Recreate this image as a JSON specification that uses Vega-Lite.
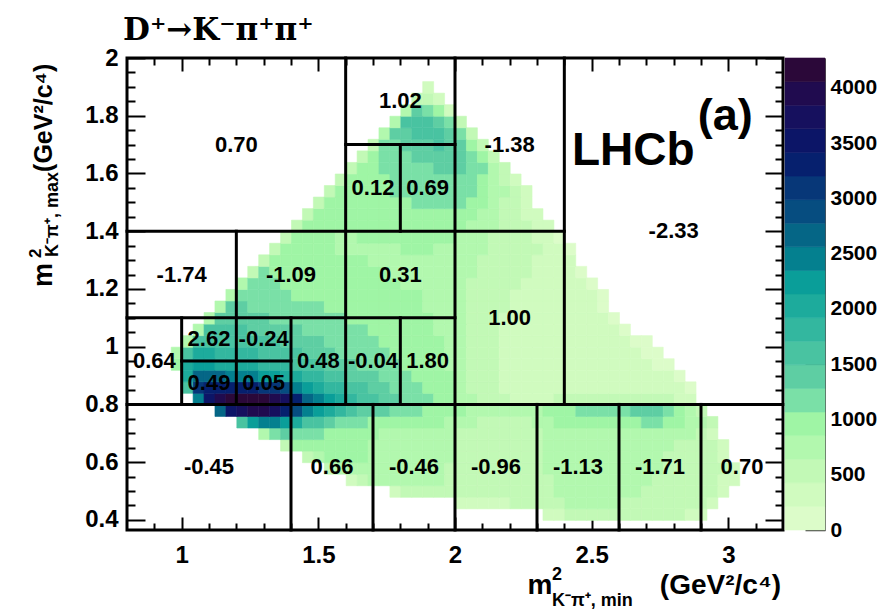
{
"$schema": "https://vega.github.io/schema/vega-lite/v6.json",
"width": 698,
"height": 472,
"autosize": {"type": "none"},
"padding": {"left": 127, "top": 58, "right": 69, "bottom": 83},
"background": "white",
"config": {
  "view": {"stroke": null},
  "axis": {"grid": false, "domain": false, "tickColor": "black", "tickWidth": 2, "labelFont": "Liberation Sans", "labelFontWeight": "bold", "labelColor": "black", "zindex": 1, "labelFlush": false, "labelOverlap": false}
},
"title": {"text": "D⁺→K⁻π⁺π⁺", "anchor": "start", "frame": "group", "font": "DejaVu Serif", "fontSize": 31, "fontWeight": "bold", "color": "black", "offset": -25, "baseline": "alphabetic", "dx": -4},
"datasets": {
  "cells": [
    {"y":0.4,"x":[2.32,2.36,2.4,2.44,2.48,2.52,2.56,2.6,2.64,2.68,2.72,2.76,2.8,2.84,2.88],"c":[300,420,480,520,560,580,600,580,560,560,540,520,480,420,300]},
    {"y":0.44,"x":[2,2.04,2.08,2.12,2.16,2.2,2.24,2.28,2.32,2.36,2.4,2.44,2.48,2.52,2.56,2.6,2.64,2.68,2.72,2.76,2.8,2.84,2.88,2.92],"c":[250,330,380,400,420,440,470,520,600,640,660,660,680,670,650,640,620,600,590,580,560,520,460,300]},
    {"y":0.48,"x":[1.76,1.8,1.84,1.88,1.92,1.96,2,2.04,2.08,2.12,2.16,2.2,2.24,2.28,2.32,2.36,2.4,2.44,2.48,2.52,2.56,2.6,2.64,2.68,2.72,2.76,2.8,2.84,2.88,2.92,2.96],"c":[350,520,600,620,600,560,500,450,440,450,460,470,490,540,620,660,680,690,700,690,680,660,650,630,620,600,580,550,500,440,280]},
    {"y":0.52,"x":[1.6,1.64,1.68,1.72,1.76,1.8,1.84,1.88,1.92,1.96,2,2.04,2.08,2.12,2.16,2.2,2.24,2.28,2.32,2.36,2.4,2.44,2.48,2.52,2.56,2.6,2.64,2.68,2.72,2.76,2.8,2.84,2.88,2.92,2.96,3],"c":[400,620,700,720,720,700,690,680,650,600,520,480,460,460,470,480,500,560,640,680,700,700,710,700,690,670,660,650,640,620,600,560,520,470,400,250]},
    {"y":0.56,"x":[1.52,1.56,1.6,1.64,1.68,1.72,1.76,1.8,1.84,1.88,1.92,1.96,2,2.04,2.08,2.12,2.16,2.2,2.24,2.28,2.32,2.36,2.4,2.44,2.48,2.52,2.56,2.6,2.64,2.68,2.72,2.76,2.8,2.84,2.88,2.92,2.96,3],"c":[450,750,820,830,800,760,740,720,710,700,680,640,560,500,480,470,480,490,520,580,650,690,710,720,720,710,700,680,670,660,650,630,610,580,540,490,430,280]},
    {"y":0.6,"x":[1.44,1.48,1.52,1.56,1.6,1.64,1.68,1.72,1.76,1.8,1.84,1.88,1.92,1.96,2,2.04,2.08,2.12,2.16,2.2,2.24,2.28,2.32,2.36,2.4,2.44,2.48,2.52,2.56,2.6,2.64,2.68,2.72,2.76,2.8,2.84,2.88,2.92,2.96],"c":[500,820,880,900,880,860,820,780,760,740,730,720,700,660,580,520,490,480,490,500,530,590,660,700,720,730,730,720,710,690,680,670,660,640,620,590,550,480,380]},
    {"y":0.64,"x":[1.36,1.4,1.44,1.48,1.52,1.56,1.6,1.64,1.68,1.72,1.76,1.8,1.84,1.88,1.92,1.96,2,2.04,2.08,2.12,2.16,2.2,2.24,2.28,2.32,2.36,2.4,2.44,2.48,2.52,2.56,2.6,2.64,2.68,2.72,2.76,2.8,2.84,2.88,2.92,2.96],"c":[600,950,980,960,940,920,900,880,840,800,780,760,750,740,720,680,600,540,510,500,500,510,540,600,670,710,730,740,750,740,730,710,700,690,680,660,640,610,570,500,330]},
    {"y":0.68,"x":[1.28,1.32,1.36,1.4,1.44,1.48,1.52,1.56,1.6,1.64,1.68,1.72,1.76,1.8,1.84,1.88,1.92,1.96,2,2.04,2.08,2.12,2.16,2.2,2.24,2.28,2.32,2.36,2.4,2.44,2.48,2.52,2.56,2.6,2.64,2.68,2.72,2.76,2.8,2.84,2.88,2.92],"c":[800,1250,1350,1250,1150,1080,1020,980,950,920,880,840,820,800,790,780,760,720,640,570,540,530,530,540,570,630,700,740,770,790,800,800,790,780,780,770,760,740,710,670,600,420]},
    {"y":0.72,"x":[1.2,1.24,1.28,1.32,1.36,1.4,1.44,1.48,1.52,1.56,1.6,1.64,1.68,1.72,1.76,1.8,1.84,1.88,1.92,1.96,2,2.04,2.08,2.12,2.16,2.2,2.24,2.28,2.32,2.36,2.4,2.44,2.48,2.52,2.56,2.6,2.64,2.68,2.72,2.76,2.8,2.84,2.88,2.92],"c":[1500,2200,2500,2500,2300,2000,1700,1500,1380,1280,1200,1120,1050,1000,960,930,900,880,860,820,740,660,620,600,600,610,640,720,820,880,920,960,1000,1000,980,980,1050,1100,1080,1000,900,800,700,450]},
    {"y":0.76,"x":[1.12,1.16,1.2,1.24,1.28,1.32,1.36,1.4,1.44,1.48,1.52,1.56,1.6,1.64,1.68,1.72,1.76,1.8,1.84,1.88,1.92,1.96,2,2.04,2.08,2.12,2.16,2.2,2.24,2.28,2.32,2.36,2.4,2.44,2.48,2.52,2.56,2.6,2.64,2.68,2.72,2.76,2.8,2.84,2.88],"c":[2600,3500,3800,3900,3850,3700,3400,2900,2450,2150,1950,1750,1600,1480,1380,1300,1240,1180,1120,1060,1010,950,880,800,740,700,680,690,720,800,920,1000,1050,1100,1150,1120,1080,1150,1300,1380,1350,1250,1050,850,520]},
    {"y":0.8,"x":[1.04,1.08,1.12,1.16,1.2,1.24,1.28,1.32,1.36,1.4,1.44,1.48,1.52,1.56,1.6,1.64,1.68,1.72,1.76,1.8,1.84,1.88,1.92,1.96,2,2.04,2.08,2.12,2.16,2.2,2.24,2.28,2.32,2.36,2.4,2.44,2.48,2.52,2.56,2.6,2.64,2.68,2.72,2.76,2.8,2.84],"c":[2400,3500,3950,4150,4200,4200,4150,4000,3700,3300,2750,2450,2200,2000,1850,1700,1550,1450,1350,1280,1200,1100,1000,900,780,660,560,480,440,420,410,410,420,430,450,470,490,500,500,510,520,510,480,440,380,250]},
    {"y":0.84,"x":[1,1.04,1.08,1.12,1.16,1.2,1.24,1.28,1.32,1.36,1.4,1.44,1.48,1.52,1.56,1.6,1.64,1.68,1.72,1.76,1.8,1.84,1.88,1.92,1.96,2,2.04,2.08,2.12,2.16,2.2,2.24,2.28,2.32,2.36,2.4,2.44,2.48,2.52,2.56,2.6,2.64,2.68,2.72,2.76,2.8,2.84],"c":[1500,3000,3350,3400,3350,3300,3250,3200,3050,2850,2450,2250,2050,1900,1750,1620,1520,1420,1330,1250,1180,1120,1060,980,880,740,620,520,460,420,400,390,380,380,380,390,400,410,420,420,420,410,400,380,340,300,200]},
    {"y":0.88,"x":[1,1.04,1.08,1.12,1.16,1.2,1.24,1.28,1.32,1.36,1.4,1.44,1.48,1.52,1.56,1.6,1.64,1.68,1.72,1.76,1.8,1.84,1.88,1.92,1.96,2,2.04,2.08,2.12,2.16,2.2,2.24,2.28,2.32,2.36,2.4,2.44,2.48,2.52,2.56,2.6,2.64,2.68,2.72,2.76,2.8],"c":[2000,2700,2750,2650,2550,2450,2400,2300,2200,2100,1950,1850,1750,1650,1550,1450,1380,1300,1230,1170,1110,1060,1010,950,860,720,600,500,440,400,380,370,360,350,350,340,330,320,320,310,300,290,280,260,230,150]},
    {"y":0.92,"x":[0.96,1,1.04,1.08,1.12,1.16,1.2,1.24,1.28,1.32,1.36,1.4,1.44,1.48,1.52,1.56,1.6,1.64,1.68,1.72,1.76,1.8,1.84,1.88,1.92,1.96,2,2.04,2.08,2.12,2.16,2.2,2.24,2.28,2.32,2.36,2.4,2.44,2.48,2.52,2.56,2.6,2.64,2.68,2.72,2.76],"c":[900,2100,2250,2200,2100,2050,2000,1950,1900,1850,1780,1700,1620,1550,1480,1400,1330,1270,1210,1150,1100,1050,1010,970,910,830,700,590,500,440,400,380,360,350,340,330,320,300,290,280,270,260,250,240,210,140]},
    {"y":0.96,"x":[0.96,1,1.04,1.08,1.12,1.16,1.2,1.24,1.28,1.32,1.36,1.4,1.44,1.48,1.52,1.56,1.6,1.64,1.68,1.72,1.76,1.8,1.84,1.88,1.92,1.96,2,2.04,2.08,2.12,2.16,2.2,2.24,2.28,2.32,2.36,2.4,2.44,2.48,2.52,2.56,2.6,2.64,2.68,2.72],"c":[700,1700,2000,1950,1900,1850,1800,1750,1700,1650,1580,1500,1440,1380,1330,1280,1230,1180,1130,1090,1050,1010,980,950,890,800,680,570,490,430,390,370,350,340,330,320,300,280,270,260,250,240,230,200,130]},
    {"y":1,"x":[1,1.04,1.08,1.12,1.16,1.2,1.24,1.28,1.32,1.36,1.4,1.44,1.48,1.52,1.56,1.6,1.64,1.68,1.72,1.76,1.8,1.84,1.88,1.92,1.96,2,2.04,2.08,2.12,2.16,2.2,2.24,2.28,2.32,2.36,2.4,2.44,2.48,2.52,2.56,2.6,2.64,2.68],"c":[800,1650,1700,1680,1650,1620,1580,1540,1500,1450,1400,1350,1300,1260,1220,1180,1140,1100,1060,1020,990,960,930,870,790,680,570,490,430,390,370,350,340,330,310,290,270,260,250,240,230,210,130]},
    {"y":1.04,"x":[1.04,1.08,1.12,1.16,1.2,1.24,1.28,1.32,1.36,1.4,1.44,1.48,1.52,1.56,1.6,1.64,1.68,1.72,1.76,1.8,1.84,1.88,1.92,1.96,2,2.04,2.08,2.12,2.16,2.2,2.24,2.28,2.32,2.36,2.4,2.44,2.48,2.52,2.56,2.6],"c":[800,1550,1550,1520,1500,1460,1420,1380,1340,1300,1260,1220,1180,1150,1120,1080,1050,1020,990,960,930,900,850,780,680,580,500,440,400,380,360,340,330,310,290,270,260,240,220,140]},
    {"y":1.08,"x":[1.08,1.12,1.16,1.2,1.24,1.28,1.32,1.36,1.4,1.44,1.48,1.52,1.56,1.6,1.64,1.68,1.72,1.76,1.8,1.84,1.88,1.92,1.96,2,2.04,2.08,2.12,2.16,2.2,2.24,2.28,2.32,2.36,2.4,2.44,2.48,2.52,2.56],"c":[750,1400,1400,1380,1350,1320,1280,1240,1200,1160,1130,1100,1070,1040,1010,990,970,950,930,900,870,830,770,680,590,510,450,410,390,370,350,330,310,290,270,250,220,140]},
    {"y":1.12,"x":[1.12,1.16,1.2,1.24,1.28,1.32,1.36,1.4,1.44,1.48,1.52,1.56,1.6,1.64,1.68,1.72,1.76,1.8,1.84,1.88,1.92,1.96,2,2.04,2.08,2.12,2.16,2.2,2.24,2.28,2.32,2.36,2.4,2.44,2.48,2.52],"c":[700,1300,1300,1280,1250,1210,1170,1130,1100,1070,1040,1010,990,970,950,930,910,890,870,850,810,760,680,600,530,470,430,400,380,360,340,320,300,270,240,150]},
    {"y":1.16,"x":[1.16,1.2,1.24,1.28,1.32,1.36,1.4,1.44,1.48,1.52,1.56,1.6,1.64,1.68,1.72,1.76,1.8,1.84,1.88,1.92,1.96,2,2.04,2.08,2.12,2.16,2.2,2.24,2.28,2.32,2.36,2.4,2.44,2.48,2.52],"c":[650,1250,1220,1180,1140,1100,1060,1030,1000,980,960,940,920,900,890,880,870,860,840,810,760,690,620,550,490,450,420,400,380,360,340,310,280,240,130]},
    {"y":1.2,"x":[1.2,1.24,1.28,1.32,1.36,1.4,1.44,1.48,1.52,1.56,1.6,1.64,1.68,1.72,1.76,1.8,1.84,1.88,1.92,1.96,2,2.04,2.08,2.12,2.16,2.2,2.24,2.28,2.32,2.36,2.4,2.44,2.48],"c":[650,1180,1140,1090,1040,1000,970,950,930,910,900,890,880,870,860,850,840,830,800,760,700,640,580,520,480,450,420,400,380,350,320,270,160]},
    {"y":1.24,"x":[1.24,1.28,1.32,1.36,1.4,1.44,1.48,1.52,1.56,1.6,1.64,1.68,1.72,1.76,1.8,1.84,1.88,1.92,1.96,2,2.04,2.08,2.12,2.16,2.2,2.24,2.28,2.32,2.36,2.4,2.44],"c":[600,1100,1050,1000,960,930,910,900,890,880,870,860,860,850,850,840,830,810,780,730,670,610,550,500,470,440,410,380,350,300,190]},
    {"y":1.28,"x":[1.28,1.32,1.36,1.4,1.44,1.48,1.52,1.56,1.6,1.64,1.68,1.72,1.76,1.8,1.84,1.88,1.92,1.96,2,2.04,2.08,2.12,2.16,2.2,2.24,2.28,2.32,2.36,2.4],"c":[560,1020,980,940,910,890,880,870,860,860,850,850,850,850,840,840,830,800,760,700,640,580,530,490,450,420,380,330,220]},
    {"y":1.32,"x":[1.32,1.36,1.4,1.44,1.48,1.52,1.56,1.6,1.64,1.68,1.72,1.76,1.8,1.84,1.88,1.92,1.96,2,2.04,2.08,2.12,2.16,2.2,2.24,2.28,2.32,2.36,2.4],"c":[520,960,920,890,870,860,850,850,850,850,850,850,860,860,860,850,830,790,730,670,610,560,510,470,430,380,310,170]},
    {"y":1.36,"x":[1.36,1.4,1.44,1.48,1.52,1.56,1.6,1.64,1.68,1.72,1.76,1.8,1.84,1.88,1.92,1.96,2,2.04,2.08,2.12,2.16,2.2,2.24,2.28,2.32,2.36],"c":[500,920,890,870,860,850,850,860,860,870,870,880,880,890,880,860,820,760,700,640,580,520,470,420,340,200]},
    {"y":1.4,"x":[1.4,1.44,1.48,1.52,1.56,1.6,1.64,1.68,1.72,1.76,1.8,1.84,1.88,1.92,1.96,2,2.04,2.08,2.12,2.16,2.2,2.24,2.28,2.32],"c":[480,900,880,870,870,870,880,890,900,910,920,930,940,930,910,870,810,740,670,600,530,460,370,220]},
    {"y":1.44,"x":[1.44,1.48,1.52,1.56,1.6,1.64,1.68,1.72,1.76,1.8,1.84,1.88,1.92,1.96,2,2.04,2.08,2.12,2.16,2.2,2.24,2.28],"c":[470,890,880,890,900,910,930,940,960,980,1000,1010,1000,980,940,870,790,700,610,520,400,240]},
    {"y":1.48,"x":[1.48,1.52,1.56,1.6,1.64,1.68,1.72,1.76,1.8,1.84,1.88,1.92,1.96,2,2.04,2.08,2.12,2.16,2.2,2.24],"c":[470,900,920,940,960,980,1000,1020,1050,1080,1100,1120,1140,1150,1050,900,760,630,470,260]},
    {"y":1.52,"x":[1.52,1.56,1.6,1.64,1.68,1.72,1.76,1.8,1.84,1.88,1.92,1.96,2,2.04,2.08,2.12,2.16,2.2,2.24],"c":[480,940,960,990,1010,1040,1070,1100,1140,1180,1200,1220,1250,1150,980,820,660,480,260]},
    {"y":1.56,"x":[1.56,1.6,1.64,1.68,1.72,1.76,1.8,1.84,1.88,1.92,1.96,2,2.04,2.08,2.12,2.16,2.2],"c":[500,960,990,1020,1050,1080,1110,1150,1190,1220,1250,1280,1200,1020,840,620,360]},
    {"y":1.6,"x":[1.6,1.64,1.68,1.72,1.76,1.8,1.84,1.88,1.92,1.96,2,2.04,2.08,2.12,2.16],"c":[520,1000,1040,1080,1120,1160,1210,1260,1300,1330,1340,1250,1080,820,450]},
    {"y":1.64,"x":[1.64,1.68,1.72,1.76,1.8,1.84,1.88,1.92,1.96,2,2.04,2.08,2.12],"c":[560,1060,1110,1170,1230,1300,1360,1400,1400,1350,1200,950,480]},
    {"y":1.68,"x":[1.68,1.72,1.76,1.8,1.84,1.88,1.92,1.96,2,2.04,2.08],"c":[600,1150,1250,1340,1420,1480,1500,1450,1320,1050,520]},
    {"y":1.72,"x":[1.72,1.76,1.8,1.84,1.88,1.92,1.96,2,2.04],"c":[680,1350,1480,1560,1580,1500,1380,1080,520]},
    {"y":1.76,"x":[1.76,1.8,1.84,1.88,1.92,1.96,2],"c":[720,1500,1600,1550,1400,1080,480]},
    {"y":1.8,"x":[1.8,1.84,1.88,1.92,1.96],"c":[650,1300,1250,900,420]},
    {"y":1.84,"x":[1.84,1.88,1.92],"c":[450,550,250]},
    {"y":1.88,"x":[1.88],"c":[250]}
  ],
  "binlines": [
    {"x":1.0,"x2":1.0,"y":0.8,"y2":1.1},
    {"x":1.2,"x2":1.2,"y":0.8,"y2":1.4},
    {"x":1.4,"x2":1.4,"y":0.365,"y2":1.1},
    {"x":1.6,"x2":1.6,"y":0.8,"y2":2.0},
    {"x":1.7,"x2":1.7,"y":0.365,"y2":0.8},
    {"x":1.8,"x2":1.8,"y":0.8,"y2":1.1},
    {"x":1.8,"x2":1.8,"y":1.4,"y2":1.7},
    {"x":2.0,"x2":2.0,"y":0.365,"y2":2.0},
    {"x":2.3,"x2":2.3,"y":0.365,"y2":0.8},
    {"x":2.4,"x2":2.4,"y":0.8,"y2":2.0},
    {"x":2.6,"x2":2.6,"y":0.365,"y2":0.8},
    {"x":2.9,"x2":2.9,"y":0.365,"y2":0.8},
    {"x":0.8,"x2":3.2,"y":0.8,"y2":0.8},
    {"x":1.0,"x2":1.4,"y":0.95,"y2":0.95},
    {"x":0.8,"x2":2.0,"y":1.1,"y2":1.1},
    {"x":0.8,"x2":2.4,"y":1.4,"y2":1.4},
    {"x":1.6,"x2":2.0,"y":1.7,"y2":1.7}
  ],
  "binvalues": [
    {"x":1.2,"y":1.7,"t":"0.70"},
    {"x":1.8,"y":1.85,"t":"1.02"},
    {"x":1.7,"y":1.55,"t":"0.12"},
    {"x":1.9,"y":1.55,"t":"0.69"},
    {"x":2.2,"y":1.7,"t":"-1.38"},
    {"x":2.8,"y":1.4,"t":"-2.33"},
    {"x":1.0,"y":1.25,"t":"-1.74"},
    {"x":1.4,"y":1.25,"t":"-1.09"},
    {"x":1.8,"y":1.25,"t":"0.31"},
    {"x":2.2,"y":1.1,"t":"1.00"},
    {"x":0.9,"y":0.95,"t":"0.64"},
    {"x":1.1,"y":1.025,"t":"2.62"},
    {"x":1.3,"y":1.025,"t":"-0.24"},
    {"x":1.1,"y":0.875,"t":"0.49"},
    {"x":1.3,"y":0.875,"t":"0.05"},
    {"x":1.5,"y":0.95,"t":"0.48"},
    {"x":1.7,"y":0.95,"t":"-0.04"},
    {"x":1.9,"y":0.95,"t":"1.80"},
    {"x":1.1,"y":0.5825,"t":"-0.45"},
    {"x":1.55,"y":0.5825,"t":"0.66"},
    {"x":1.85,"y":0.5825,"t":"-0.46"},
    {"x":2.15,"y":0.5825,"t":"-0.96"},
    {"x":2.45,"y":0.5825,"t":"-1.13"},
    {"x":2.75,"y":0.5825,"t":"-1.71"},
    {"x":3.05,"y":0.5825,"t":"0.70"}
  ],
  "bands": [
    {"lo":0,"hi":213.5},{"lo":213.5,"hi":427},{"lo":427,"hi":640.5},{"lo":640.5,"hi":854},
    {"lo":854,"hi":1067.5},{"lo":1067.5,"hi":1281},{"lo":1281,"hi":1494.5},{"lo":1494.5,"hi":1708},
    {"lo":1708,"hi":1921.5},{"lo":1921.5,"hi":2135},{"lo":2135,"hi":2348.5},{"lo":2348.5,"hi":2562},
    {"lo":2562,"hi":2775.5},{"lo":2775.5,"hi":2989},{"lo":2989,"hi":3202.5},{"lo":3202.5,"hi":3416},
    {"lo":3416,"hi":3629.5},{"lo":3629.5,"hi":3843},{"lo":3843,"hi":4056.5},{"lo":4056.5,"hi":4270}
  ]
},
"layer": [
  {
    "layer": [
      {
        "data": {"name": "cells"},
        "transform": [{"flatten": ["x", "c"]}],
        "mark": {"type": "rect", "strokeWidth": 0.6, "binSpacing": 0},
        "encoding": {
          "x": {"field": "x", "type": "quantitative", "bin": {"binned": true, "step": 0.04},
                "scale": {"domain": [0.8, 3.2], "range": [0, 656], "nice": false, "zero": false},
                "axis": {"orient": "bottom", "values": [1, 1.5, 2, 2.5, 3], "format": "~g", "tickSize": -13, "labelPadding": 26, "labelFontSize": 24, "title": null}},
          "y": {"field": "y", "type": "quantitative", "bin": {"binned": true, "step": 0.04},
                "scale": {"domain": [0.365, 2], "nice": false, "zero": false},
                "axis": {"orient": "left", "values": [0.4, 0.6, 0.8, 1, 1.2, 1.4, 1.6, 1.8, 2], "format": "~g", "tickSize": -18, "labelPadding": 27, "labelFontSize": 24, "title": null}},
          "fill": {"field": "c", "type": "quantitative", "legend": null,
                   "scale": {"type": "quantize", "domain": [0, 4270], "nice": false, "range": ["#dcfcc9","#d0fbbf","#c2f9b6","#b2f8ae","#9ff5a5","#7ae0a7","#5ecea3","#49c3a1","#33b79f","#1dab9c","#0a9e99","#04808f","#056686","#064d80","#073778","#06206e","#0c1567","#16105e","#200b4f","#2b0839"]}},
          "stroke": {"field": "c", "type": "quantitative", "legend": null,
                   "scale": {"type": "quantize", "domain": [0, 4270], "nice": false, "range": ["#dcfcc9","#d0fbbf","#c2f9b6","#b2f8ae","#9ff5a5","#7ae0a7","#5ecea3","#49c3a1","#33b79f","#1dab9c","#0a9e99","#04808f","#056686","#064d80","#073778","#06206e","#0c1567","#16105e","#200b4f","#2b0839"]}}
        }
      },
      {
        "data": {"name": "binlines"},
        "mark": {"type": "rule", "color": "black", "strokeWidth": 3, "strokeCap": "square"},
        "encoding": {
          "x": {"field": "x", "type": "quantitative",
                "scale": {"domain": [0.8, 3.2], "range": [0, 656], "nice": false, "zero": false},
                "axis": {"orient": "bottom", "values": [0.9, 1.1, 1.2, 1.3, 1.4, 1.6, 1.7, 1.8, 1.9, 2.1, 2.2, 2.3, 2.4, 2.6, 2.7, 2.8, 2.9, 3.1], "tickSize": -7, "labels": false, "title": null}},
          "x2": {"field": "x2"},
          "y": {"field": "y", "type": "quantitative",
                "scale": {"domain": [0.365, 2], "nice": false, "zero": false},
                "axis": {"orient": "left", "values": [0.45, 0.5, 0.55, 0.65, 0.7, 0.75, 0.85, 0.9, 0.95, 1.05, 1.1, 1.15, 1.25, 1.3, 1.35, 1.45, 1.5, 1.55, 1.65, 1.7, 1.75, 1.85, 1.9, 1.95], "tickSize": -8, "labels": false, "title": null}},
          "y2": {"field": "y2"}
        }
      },
      {
        "data": {"name": "binvalues"},
        "mark": {"type": "text", "font": "Liberation Sans", "fontWeight": "bold", "fontSize": 22, "align": "center", "baseline": "middle", "color": "black"},
        "encoding": {
          "x": {"field": "x", "type": "quantitative",
                "scale": {"domain": [0.8, 3.2], "range": [0, 656], "nice": false, "zero": false},
                "axis": {"orient": "top", "values": [1, 1.5, 2, 2.5, 3], "tickSize": -13, "labels": false, "title": null}},
          "y": {"field": "y", "type": "quantitative",
                "scale": {"domain": [0.365, 2], "nice": false, "zero": false},
                "axis": {"orient": "right", "offset": -42, "values": [0.4, 0.6, 0.8, 1, 1.2, 1.4, 1.6, 1.8, 2], "tickSize": -18, "labels": false, "title": null}},
          "text": {"field": "t", "type": "nominal"}
        }
      },
      {
        "data": {"values": [{}]},
        "mark": {"type": "rect", "fillOpacity": 0, "stroke": "black", "strokeWidth": 3},
        "encoding": {
          "x": {"datum": 0.8, "type": "quantitative",
                "scale": {"domain": [0.8, 3.2], "range": [0, 656], "nice": false, "zero": false},
                "axis": {"orient": "top", "values": [0.9, 1.1, 1.2, 1.3, 1.4, 1.6, 1.7, 1.8, 1.9, 2.1, 2.2, 2.3, 2.4, 2.6, 2.7, 2.8, 2.9, 3.1], "tickSize": -7, "labels": false, "title": null}},
          "x2": {"datum": 3.2},
          "y": {"datum": 0.365, "type": "quantitative",
                "scale": {"domain": [0.365, 2], "nice": false, "zero": false},
                "axis": {"orient": "right", "offset": -42, "values": [0.45, 0.5, 0.55, 0.65, 0.7, 0.75, 0.85, 0.9, 0.95, 1.05, 1.1, 1.15, 1.25, 1.3, 1.35, 1.45, 1.5, 1.55, 1.65, 1.7, 1.75, 1.85, 1.9, 1.95], "tickSize": -8, "labels": false, "title": null}},
          "y2": {"datum": 2}
        }
      },
      {
        "data": {"values": [{}]},
        "mark": {"type": "text", "text": "LHCb", "font": "Liberation Sans", "fontSize": 46, "fontWeight": "bold", "align": "left", "baseline": "alphabetic", "color": "black"},
        "encoding": {
          "x": {"datum": 2.428, "type": "quantitative", "scale": {"domain": [0.8, 3.2], "range": [0, 656], "nice": false, "zero": false}, "axis": null},
          "y": {"datum": 1.63, "type": "quantitative", "scale": {"domain": [0.365, 2], "nice": false, "zero": false}, "axis": null}
        }
      },
      {
        "data": {"values": [{}]},
        "mark": {"type": "text", "text": "(a)", "font": "Liberation Sans", "fontSize": 45, "fontWeight": "bold", "align": "left", "baseline": "alphabetic", "color": "black"},
        "encoding": {
          "x": {"datum": 2.8885, "type": "quantitative", "scale": {"domain": [0.8, 3.2], "range": [0, 656], "nice": false, "zero": false}, "axis": null},
          "y": {"datum": 1.7508, "type": "quantitative", "scale": {"domain": [0.365, 2], "nice": false, "zero": false}, "axis": null}
        }
      },
      {
        "data": {"values": [{}]},
        "mark": {"type": "text", "text": "m", "font": "Liberation Sans", "fontSize": 28, "fontWeight": "bold", "align": "left", "baseline": "alphabetic", "color": "black"},
        "encoding": {
          "x": {"datum": 2.2651, "type": "quantitative", "scale": {"domain": [0.8, 3.2], "range": [0, 656], "nice": false, "zero": false}, "axis": null},
          "y": {"datum": 0.1436, "type": "quantitative", "scale": {"domain": [0.365, 2], "nice": false, "zero": false}, "axis": null}
        }
      },
      {
        "data": {"values": [{}]},
        "mark": {"type": "text", "text": "2", "font": "Liberation Sans", "fontSize": 18, "fontWeight": "bold", "align": "left", "baseline": "alphabetic", "color": "black"},
        "encoding": {
          "x": {"datum": 2.3547, "type": "quantitative", "scale": {"domain": [0.8, 3.2], "range": [0, 656], "nice": false, "zero": false}, "axis": null},
          "y": {"datum": 0.1921, "type": "quantitative", "scale": {"domain": [0.365, 2], "nice": false, "zero": false}, "axis": null}
        }
      },
      {
        "data": {"values": [{}]},
        "mark": {"type": "text", "text": "K⁻π⁺, min", "font": "Liberation Sans", "fontSize": 18, "fontWeight": "bold", "align": "left", "baseline": "alphabetic", "color": "black"},
        "encoding": {
          "x": {"datum": 2.3547, "type": "quantitative", "scale": {"domain": [0.8, 3.2], "range": [0, 656], "nice": false, "zero": false}, "axis": null},
          "y": {"datum": 0.102, "type": "quantitative", "scale": {"domain": [0.365, 2], "nice": false, "zero": false}, "axis": null}
        }
      },
      {
        "data": {"values": [{}]},
        "mark": {"type": "text", "text": "(GeV²/c⁴)", "font": "Liberation Sans", "fontSize": 28, "fontWeight": "bold", "align": "left", "baseline": "alphabetic", "color": "black"},
        "encoding": {
          "x": {"datum": 2.7495, "type": "quantitative", "scale": {"domain": [0.8, 3.2], "range": [0, 656], "nice": false, "zero": false}, "axis": null},
          "y": {"datum": 0.1436, "type": "quantitative", "scale": {"domain": [0.365, 2], "nice": false, "zero": false}, "axis": null}
        }
      },
      {
        "data": {"values": [{}]},
        "mark": {"type": "text", "text": "m", "angle": 270, "font": "Liberation Sans", "fontSize": 27, "fontWeight": "bold", "align": "left", "baseline": "alphabetic", "color": "black"},
        "encoding": {
          "x": {"datum": 0.5265, "type": "quantitative", "scale": {"domain": [0.8, 3.2], "range": [0, 656], "nice": false, "zero": false}, "axis": null},
          "y": {"datum": 1.207, "type": "quantitative", "scale": {"domain": [0.365, 2], "nice": false, "zero": false}, "axis": null}
        }
      },
      {
        "data": {"values": [{}]},
        "mark": {"type": "text", "text": "2", "angle": 270, "font": "Liberation Sans", "fontSize": 17, "fontWeight": "bold", "align": "left", "baseline": "alphabetic", "color": "black"},
        "encoding": {
          "x": {"datum": 0.4863, "type": "quantitative", "scale": {"domain": [0.8, 3.2], "range": [0, 656], "nice": false, "zero": false}, "axis": null},
          "y": {"datum": 1.3074, "type": "quantitative", "scale": {"domain": [0.365, 2], "nice": false, "zero": false}, "axis": null}
        }
      },
      {
        "data": {"values": [{}]},
        "mark": {"type": "text", "text": "K⁻π⁺, max", "angle": 270, "font": "Liberation Sans", "fontSize": 18, "fontWeight": "bold", "align": "left", "baseline": "alphabetic", "color": "black"},
        "encoding": {
          "x": {"datum": 0.5485, "type": "quantitative", "scale": {"domain": [0.8, 3.2], "range": [0, 656], "nice": false, "zero": false}, "axis": null},
          "y": {"datum": 1.311, "type": "quantitative", "scale": {"domain": [0.365, 2], "nice": false, "zero": false}, "axis": null}
        }
      },
      {
        "data": {"values": [{}]},
        "mark": {"type": "text", "text": "(GeV²/c⁴)", "angle": 270, "font": "Liberation Sans", "fontSize": 25, "fontWeight": "bold", "align": "left", "baseline": "alphabetic", "color": "black"},
        "encoding": {
          "x": {"datum": 0.5265, "type": "quantitative", "scale": {"domain": [0.8, 3.2], "range": [0, 656], "nice": false, "zero": false}, "axis": null},
          "y": {"datum": 1.6053, "type": "quantitative", "scale": {"domain": [0.365, 2], "nice": false, "zero": false}, "axis": null}
        }
      }
    ],
    "resolve": {"axis": {"x": "independent", "y": "independent"}}
  },
  {
    "data": {"name": "bands"},
    "mark": {"type": "rect", "strokeWidth": 0.6},
    "encoding": {
      "x": {"datum": 0, "type": "quantitative", "scale": {"domain": [0, 1], "range": [658, 698], "nice": false, "zero": false}, "axis": null},
      "x2": {"datum": 1},
      "y": {"field": "lo", "type": "quantitative", "scale": {"domain": [0, 4270], "nice": false, "zero": false},
            "axis": {"orient": "right", "values": [0, 500, 1000, 1500, 2000, 2500, 3000, 3500, 4000], "format": "d", "tickSize": -20, "tickWidth": 1.5, "tickColor": "#333333", "domain": true, "domainColor": "#555555", "domainWidth": 1, "labelPadding": 25, "labelFontSize": 21, "title": null}},
      "y2": {"field": "hi"},
      "fill": {"field": "lo", "type": "quantitative", "legend": null,
               "scale": {"type": "quantize", "domain": [0, 4270], "nice": false, "range": ["#dcfcc9","#d0fbbf","#c2f9b6","#b2f8ae","#9ff5a5","#7ae0a7","#5ecea3","#49c3a1","#33b79f","#1dab9c","#0a9e99","#04808f","#056686","#064d80","#073778","#06206e","#0c1567","#16105e","#200b4f","#2b0839"]}},
      "stroke": {"field": "lo", "type": "quantitative", "legend": null,
               "scale": {"type": "quantize", "domain": [0, 4270], "nice": false, "range": ["#dcfcc9","#d0fbbf","#c2f9b6","#b2f8ae","#9ff5a5","#7ae0a7","#5ecea3","#49c3a1","#33b79f","#1dab9c","#0a9e99","#04808f","#056686","#064d80","#073778","#06206e","#0c1567","#16105e","#200b4f","#2b0839"]}}
    }
  }
],
"resolve": {"scale": {"x": "independent", "y": "independent"}, "axis": {"x": "independent", "y": "independent"}}
}
